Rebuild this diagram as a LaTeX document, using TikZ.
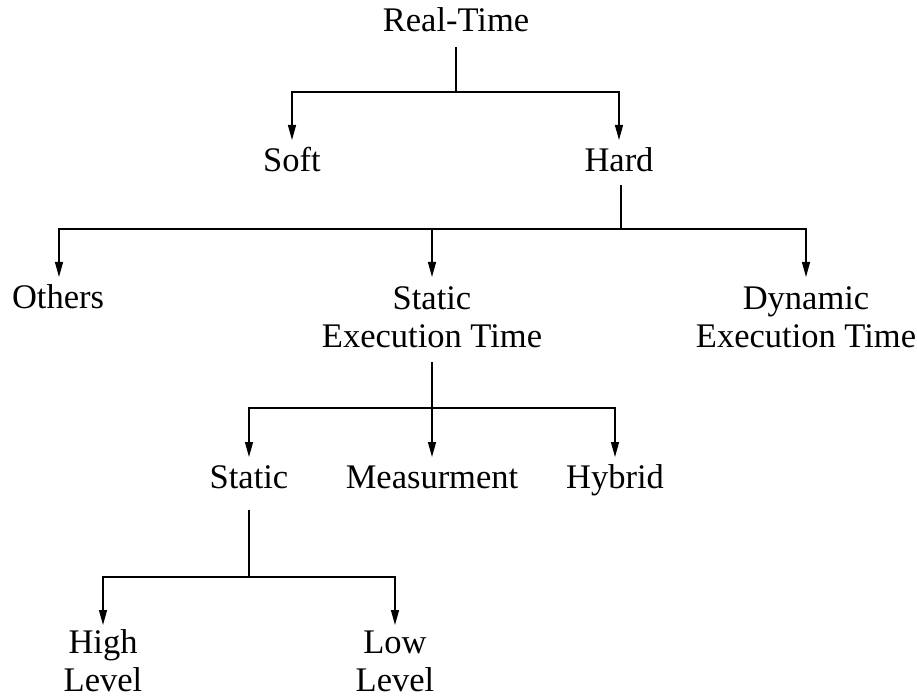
\documentclass[tikz,border=0pt]{standalone}
\usepackage{fontspec}
\setmainfont{Liberation Serif}
\usetikzlibrary{arrows.meta}
\begin{document}
\begin{tikzpicture}[x=1pt,y=-1pt,
  lbl/.style={anchor=base,inner sep=0pt,align=center,font=\fontsize{34.5}{38}\selectfont},
  conn/.style={line width=1.3pt},
  arr/.style={conn,-{Triangle[length=15pt,width=8pt]}}]
\useasboundingbox (0,0) rectangle (917,700);
% nodes (positions: x = centre, y = baseline of last line)
\node[lbl] (rt)   at (456,32)  {Real-Time};
\node[lbl] (soft) at (292,172) {Soft};
\node[lbl] (hard) at (619,172) {Hard};
\node[lbl] (oth)  at (58,308)  {Others};
\node[lbl] (set)  at (432,347) {Static\\Execution Time};
\node[lbl] (det)  at (806,347) {Dynamic\\Execution Time};
\node[lbl] (sta)  at (249,488) {Static};
\node[lbl] (mea)  at (432,488) {Measurment};
\node[lbl] (hyb)  at (615,488) {Hybrid};
\node[lbl] (hig)  at (103,691) {High\\Level};
\node[lbl] (low)  at (395,691) {Low\\Level};
% connectors
\coordinate (b1) at (456,92);
\coordinate (b2) at (621,229);
\coordinate (b3) at (432,408);
\coordinate (b4) at (249,577);
\draw[conn] ([yshift=-15pt]rt.base) -- (b1);
\draw[arr] (b1) -| ([yshift=32pt]soft.base);
\draw[arr] (b1) -| ([yshift=32pt]hard.base);
\draw[conn] ([yshift=-13pt,xshift=2pt]hard.base) -- (b2);
\draw[arr] (b2) -| ([xshift=1pt,yshift=31pt]oth.base);
\draw[arr] (b2) -| ([yshift=70pt]set.base);
\draw[arr] (b2) -| ([yshift=70pt]det.base);
\draw[conn] ([yshift=-15pt]set.base) -- (b3);
\draw[arr] (b3) -| ([yshift=31pt]sta.base);
\draw[arr] (b3) -- ([yshift=31pt]mea.base);
\draw[arr] (b3) -| ([yshift=31pt]hyb.base);
\draw[conn] ([yshift=-22pt]sta.base) -- (b4);
\draw[arr] (b4) -| ([yshift=66pt]hig.base);
\draw[arr] (b4) -| ([yshift=66pt]low.base);
\end{tikzpicture}
\end{document}
